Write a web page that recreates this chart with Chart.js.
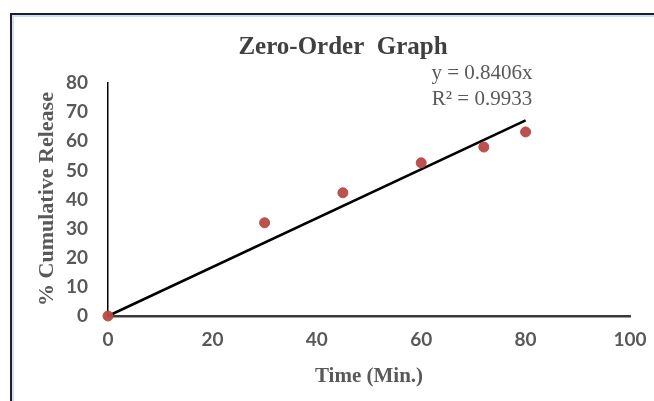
<!DOCTYPE html>
<html>
<head>
<meta charset="utf-8">
<script src="https://cdn.jsdelivr.net/npm/chart.js@4.4.1/dist/chart.umd.min.js"></script>
<style>
  html, body { margin: 0; padding: 0; background: #ffffff; }
  #wrap { position: relative; width: 654px; height: 401px; overflow: hidden; background: #fff; }
  #frame { position: absolute; left: 10px; top: 13px; width: 700px; height: 450px;
           border-left: 2px solid #1b1f2a; border-top: 2px solid #1b1f2a;
           box-shadow: inset 2px 2px 0 #cfe2f3; }
  #c { position: absolute; left: 0; top: 0; }
</style>
</head>
<body>
<div id="wrap">
  <div id="frame"></div>
  <canvas id="c" width="654" height="401"></canvas>
</div>
<script>
// Data
const timeMin = [0, 30, 45, 60, 72, 80];
const cumRelease = [0, 32, 42.3, 52.6, 58, 63.2];
const trendX = [0, 80];
const trendY = [0, 67.2];
const xTicks = [0, 20, 40, 60, 80, 100];
const yTicks = [0, 10, 20, 30, 40, 50, 60, 70, 80];
const titleText = 'Zero-Order  Graph';
const xTitle = 'Time (Min.)';
const yTitle = '% Cumulative Release';
const eqLines = ['y = 0.8406x', 'R\u00B2 = 0.9933'];

const tickFont = { family: 'Lato, "Open Sans", "Liberation Sans", sans-serif', size: 19, weight: 'bold' };
const serif = '"Liberation Serif", "Times New Roman", serif';

const extraText = {
  id: 'extraText',
  afterDraw(chart) {
    const { ctx } = chart;
    ctx.save();
    // chart title
    ctx.fillStyle = '#404040';
    ctx.font = 'bold 25px ' + serif;
    ctx.textAlign = 'center';
    ctx.textBaseline = 'alphabetic';
    ctx.fillText(titleText, 343, 54);
    // equation
    ctx.fillStyle = '#595959';
    ctx.font = '21px ' + serif;
    ctx.fillText(eqLines[0], 482, 79);
    ctx.fillText(eqLines[1], 482, 105);
    // y axis title
    ctx.translate(47, 199);
    ctx.rotate(-Math.PI / 2);
    ctx.font = 'bold 22px ' + serif;
    ctx.textBaseline = 'middle';
    ctx.fillStyle = '#595959';
    ctx.fillText(yTitle, 0, 0);
    ctx.restore();
  }
};

new Chart(document.getElementById('c'), {
  type: 'scatter',
  data: {
    datasets: [
      {
        label: 'Release',
        data: timeMin.map((t, i) => ({ x: t, y: cumRelease[i] })),
        backgroundColor: 'rgba(184,72,70,0.95)',
        borderColor: 'rgba(184,72,70,0.95)',
        pointRadius: 5,
        pointHoverRadius: 5,
        clip: false,
        order: 1
      },
      {
        label: 'Linear',
        type: 'line',
        data: trendX.map((t, i) => ({ x: t, y: trendY[i] })),
        borderColor: '#000000',
        borderWidth: 2.5,
        pointRadius: 0,
        fill: false,
        clip: false,
        order: 2
      }
    ]
  },
  options: {
    responsive: false,
    animation: false,
    events: [],
    layout: { padding: { left: 0, right: 0, top: 83, bottom: 0 } },
    plugins: {
      legend: { display: false },
      tooltip: { enabled: false },
      title: { display: false }
    },
    scales: {
      x: {
        type: 'linear',
        min: 0, max: 100,
        afterFit(scale) { scale.height = 85; scale.paddingRight = 24; scale.paddingLeft = 0; },
        afterBuildTicks(scale) { scale.ticks = xTicks.map(v => ({ value: v })); },
        grid: { display: false, drawTicks: false },
        border: { display: true, color: '#3a3a3a', width: 2.5 },
        ticks: { color: '#595959', font: tickFont, padding: 12 },
        title: {
          display: true, text: xTitle, color: '#595959',
          font: { family: serif, size: 21, weight: 'bold' },
          padding: { top: 0, bottom: 12 }
        }
      },
      y: {
        type: 'linear',
        min: 0, max: 80,
        afterFit(scale) { scale.width = 108; },
        afterBuildTicks(scale) { scale.ticks = yTicks.map(v => ({ value: v })); },
        grid: { display: false, drawTicks: false },
        border: { display: true, color: '#000000', width: 1.5 },
        ticks: { color: '#595959', font: tickFont, padding: 20 }
      }
    }
  },
  plugins: [extraText]
});
</script>
</body>
</html>
